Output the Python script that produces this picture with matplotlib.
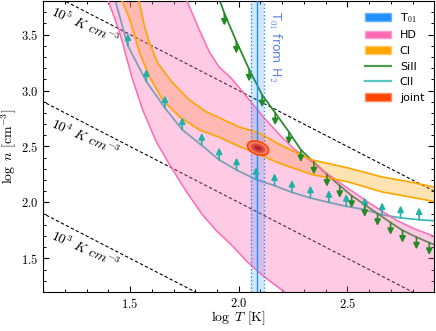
import numpy as np
import matplotlib
matplotlib.use('Agg')
import matplotlib.pyplot as plt
from matplotlib.patches import Patch, Ellipse
from matplotlib.lines import Line2D
from matplotlib.transforms import ScaledTranslation
from matplotlib.ticker import MultipleLocator

plt.rcParams['font.family'] = 'serif'
plt.rcParams['font.serif'] = ['cmr10']
plt.rcParams['mathtext.fontset'] = 'cm'
plt.rcParams['axes.formatter.use_mathtext'] = True

# HD constraint: two edges of the band (log T, log n)
hd_lo_T = [1.385, 1.398, 1.453, 1.508, 1.558, 1.622, 1.682, 1.760, 1.833, 1.900, 1.966, 2.039, 2.117, 2.209, 2.24]
hd_lo_n = [3.90, 3.81, 3.514, 3.121, 2.827, 2.536, 2.336, 2.095, 1.889, 1.742, 1.621, 1.470, 1.336, 1.202, 1.15]
hd_hi_T = [1.74, 1.760, 1.819, 1.865, 1.910, 1.966, 2.039, 2.117, 2.195, 2.254, 2.337, 2.415, 2.493, 2.58, 2.657, 2.731, 2.809, 2.95]
hd_hi_n = [3.90, 3.81, 3.541, 3.345, 3.21, 3.11, 2.94, 2.755, 2.59, 2.48, 2.363, 2.246, 2.139, 2.023, 1.925, 1.836, 1.764, 1.66]

# CI constraint
ci_lo_T = [1.455, 1.462, 1.499, 1.544, 1.590, 1.650, 1.728, 1.819, 1.906, 2.002, 2.094, 2.186, 2.337, 2.502, 2.657, 2.809, 2.95]
ci_lo_n = [3.90, 3.81, 3.63, 3.336, 3.121, 2.916, 2.764, 2.648, 2.586, 2.50, 2.43, 2.35, 2.25, 2.184, 2.095, 2.041, 1.99]
ci_hi_T = [1.53, 1.540, 1.567, 1.590, 1.627, 1.696, 1.773, 1.851, 1.911, 2.002, 2.094, 2.186, 2.337, 2.502, 2.657, 2.809, 2.95]
ci_hi_n = [3.90, 3.81, 3.568, 3.425, 3.246, 3.068, 2.916, 2.809, 2.755, 2.675, 2.62, 2.52, 2.38, 2.309, 2.229, 2.175, 2.115]

# CII lower limit (arrows up at inner points)
cii_T = [1.418, 1.49, 1.575, 1.66, 1.74, 1.83, 1.91, 1.99, 2.08, 2.165, 2.245, 2.33, 2.415, 2.495, 2.58, 2.66, 2.745, 2.83, 2.91]
cii_n = [3.90, 3.40, 3.08, 2.845, 2.65, 2.51, 2.38, 2.29, 2.205, 2.15, 2.09, 2.04, 2.0, 1.965, 1.935, 1.89, 1.862, 1.845, 1.835]

# SiII upper limit (arrows down at inner points)
sii_T = [1.90, 1.934, 1.989, 2.048, 2.108, 2.168, 2.231, 2.286, 2.346, 2.406, 2.465, 2.52, 2.58, 2.639, 2.699, 2.754, 2.818, 2.877, 2.91]
sii_n = [3.87, 3.69, 3.44, 3.19, 2.96, 2.80, 2.63, 2.47, 2.36, 2.25, 2.15, 2.06, 1.98, 1.90, 1.82, 1.75, 1.69, 1.64, 1.615]

# T01 from H2
t01 = 2.086
t01_err = 0.03

# joint estimate
joint_T = 2.089
joint_n = 2.485

# thermal pressure lines, log(P / K cm^-3)
log_P = [3, 4, 5]

c_cii = '#3cbcb4'
c_sii = '#2e8b2e'

fig = plt.figure(figsize=(4.36, 3.31), dpi=100)
ax = fig.add_axes([0.099, 0.118, 0.897, 0.879])

# pressure lines
Tgrid = np.array([1.0, 3.0])
for p in log_P:
    ax.plot(Tgrid, p - Tgrid, ls=(0, (3, 2)), color='k', lw=0.8, zorder=1)
    xl = 1.292
    ax.text(xl, p - xl - 0.13, r'$10^{%d}\ K\ cm^{-3}$' % p, fontsize=10,
            rotation=-24, ha='center', va='center', rotation_mode='anchor')

# limit curves sit under the fills
ax.plot(cii_T, cii_n, color=c_cii, lw=1.3, zorder=1)
ax.plot(sii_T, sii_n, color=c_sii, lw=1.3, zorder=1)

# CI band
ax.fill(ci_lo_T + ci_hi_T[::-1], ci_lo_n + ci_hi_n[::-1], color='#ffa500', alpha=0.3, lw=0, zorder=2)

# HD band
poly_T = hd_lo_T + [2.95] + hd_hi_T[::-1]
poly_n = hd_lo_n + [1.15] + hd_hi_n[::-1]
ax.fill(poly_T, poly_n, color='#ff69b4', alpha=0.35, lw=0, zorder=2)
ax.plot(hd_lo_T, hd_lo_n, color='#ff69b4', lw=1.1, zorder=3)
ax.plot(hd_hi_T, hd_hi_n, color='#ff69b4', lw=1.1, zorder=3)

ax.plot(ci_lo_T, ci_lo_n, color='#ffa500', lw=1.2, zorder=3)
ax.plot(ci_hi_T, ci_hi_n, color='#ffa500', lw=1.2, zorder=3)

# T01
ax.axvspan(t01 - t01_err, t01 + t01_err, color='#1e90ff', alpha=0.2, lw=0, zorder=2)
ax.axvline(t01, color='#1e90ff', lw=1.0, zorder=3)
ax.axvline(t01 - t01_err, color='#1e90ff', lw=1.0, ls=':', zorder=3)
ax.axvline(t01 + t01_err, color='#1e90ff', lw=1.0, ls=':', zorder=3)
ax.text(t01 + 0.08, 3.39, r'T$_{01}$ from H$_2$', family='DejaVu Sans', fontsize=9,
        color='#4169e1', alpha=0.85, rotation=-90, ha='center', va='center')

# arrows
for x, y in zip(cii_T[1:-1], cii_n[1:-1]):
    ax.annotate('', xy=(x, y + 0.11), xytext=(x, y), zorder=4,
                arrowprops=dict(arrowstyle='-|>', color='#20b2aa', lw=1.2,
                                mutation_scale=9, shrinkA=0, shrinkB=0))
for x, y in zip(sii_T[1:-1], sii_n[1:-1]):
    ax.annotate('', xy=(x, y - 0.11), xytext=(x, y), zorder=4,
                arrowprops=dict(arrowstyle='-|>', color='#228b22', lw=1.2,
                                mutation_scale=9, shrinkA=0, shrinkB=0))

# joint
for w, h, fc, ec in [(0.22, 0.13, '#f3826e', '#ff4500'), (0.15, 0.085, '#dd4a3e', 'none'),
                     (0.08, 0.045, '#b5262a', 'none')]:
    tr = fig.dpi_scale_trans + ScaledTranslation(joint_T, joint_n, ax.transData)
    ax.add_patch(Ellipse((0, 0), w, h, angle=-20, transform=tr, facecolor=fc,
                         edgecolor=ec, lw=1.2, zorder=5))

ax.set_xlim(1.1, 2.9)
ax.set_ylim(1.2, 3.8)
ax.xaxis.set_major_locator(MultipleLocator(0.5))
ax.xaxis.set_minor_locator(MultipleLocator(0.1))
ax.yaxis.set_major_locator(MultipleLocator(0.5))
ax.yaxis.set_minor_locator(MultipleLocator(0.1))
ax.tick_params(which='both', direction='in', top=True, right=True, labelsize=9)
ax.tick_params(which='major', length=4, width=0.8)
ax.tick_params(which='minor', length=2.3, width=0.7)
ax.set_xlabel(r'$\log\ T\ [\mathrm{K}]$', fontsize=10, labelpad=-1)
ax.set_ylabel(r'$\log\ n\ [\mathrm{cm}^{-3}]$', fontsize=10, labelpad=1)

handles = [Patch(facecolor='#1e90ff', edgecolor='#66b3ff'),
           Patch(facecolor='#ff69b4', edgecolor='#ff9ccf'),
           Patch(facecolor='#ffa500', edgecolor='#ffc966'),
           Line2D([], [], color=c_sii, lw=1.6, alpha=0.85),
           Line2D([], [], color=c_cii, lw=1.6, alpha=0.85),
           Patch(facecolor='#ff4500', edgecolor='#ff8c66')]
labels = [r'T$_{01}$', 'HD', 'CI', 'SiII', 'CII', 'joint']
ax.legend(handles, labels, loc='upper right', frameon=False,
          prop={'family': 'DejaVu Sans', 'size': 8}, handlelength=2.35,
          handletextpad=0.8, labelspacing=0.5)

fig.savefig('out.png', dpi=100)
